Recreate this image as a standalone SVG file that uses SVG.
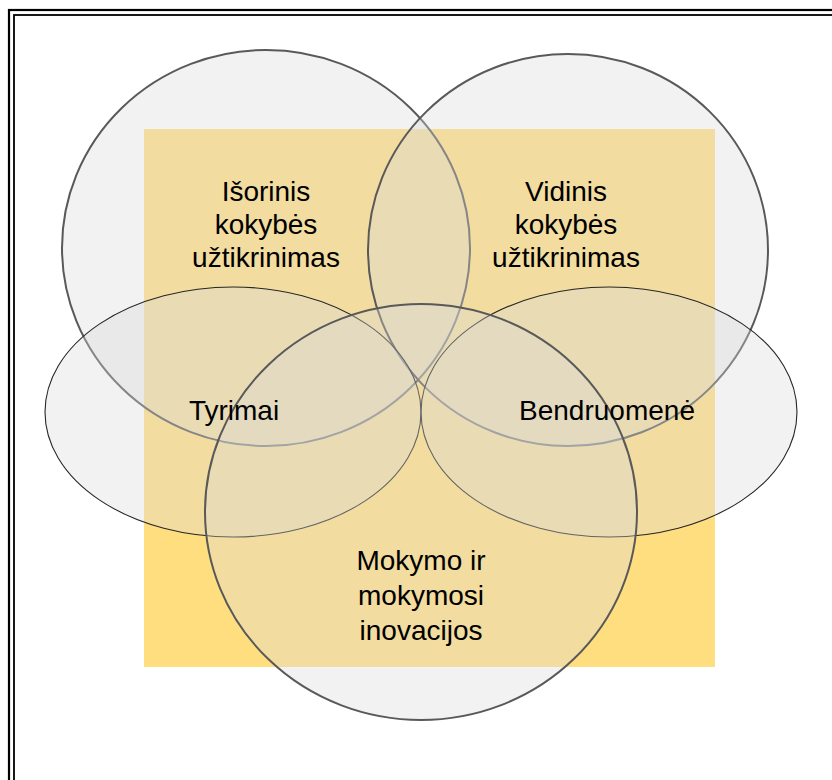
<svg xmlns="http://www.w3.org/2000/svg" width="832" height="780" viewBox="0 0 832 780">
  <style>
    .frame { fill: none; stroke: #000; }
    .bubble { fill: #d9d9d9; fill-opacity: 0.35; }
    .thick { stroke: #595959; stroke-width: 2; }
    .thin { stroke: #262626; stroke-width: 1.1; }
    .label { font-family: "Liberation Sans", Arial, sans-serif; font-size: 28px; fill: #000; text-anchor: middle; }
  </style>

  <rect width="832" height="780" fill="#fff"/>

  <!-- double page frame -->
  <rect class="frame" x="9" y="10" width="900" height="900" stroke-width="2.2"/>
  <rect class="frame" x="14" y="15" width="900" height="900" stroke-width="1.8"/>

  <!-- background panel -->
  <rect id="panel" x="144" y="129" width="571" height="538" fill="#ffde80"/>

  <!-- translucent bubbles, drawn first so every label stays on top -->
  <g id="nodes">
    <g id="isorinis">
      <ellipse class="bubble thick" cx="266" cy="248" rx="204" ry="198"/>
    </g>
    <g id="vidinis">
      <ellipse class="bubble thick" cx="568" cy="250" rx="200" ry="196"/>
    </g>
    <g id="tyrimai">
      <ellipse class="bubble thin" cx="233" cy="412" rx="188" ry="125"/>
    </g>
    <g id="bendruomene">
      <ellipse class="bubble thin" cx="609" cy="412" rx="188" ry="125"/>
    </g>
    <g id="mokymo">
      <ellipse class="bubble thick" cx="421" cy="512" rx="216" ry="208"/>
    </g>
  </g>

  <g id="labels">
    <g id="isorinis-label">
      <text class="label" x="266" y="201">Išorinis</text>
      <text class="label" x="266" y="234">kokybės</text>
      <text class="label" x="266" y="267">užtikrinimas</text>
    </g>
    <g id="vidinis-label">
      <text class="label" x="566" y="201">Vidinis</text>
      <text class="label" x="566" y="234">kokybės</text>
      <text class="label" x="566" y="267">užtikrinimas</text>
    </g>
    <g id="tyrimai-label">
      <text class="label" x="234" y="420">Tyrimai</text>
    </g>
    <g id="bendruomene-label">
      <text class="label" x="607" y="420">Bendruomenė</text>
    </g>
    <g id="mokymo-label">
      <text class="label" x="421" y="570">Mokymo ir</text>
      <text class="label" x="421" y="605">mokymosi</text>
      <text class="label" x="421" y="640">inovacijos</text>
    </g>
  </g>

  <g id="connectors"></g>
</svg>
